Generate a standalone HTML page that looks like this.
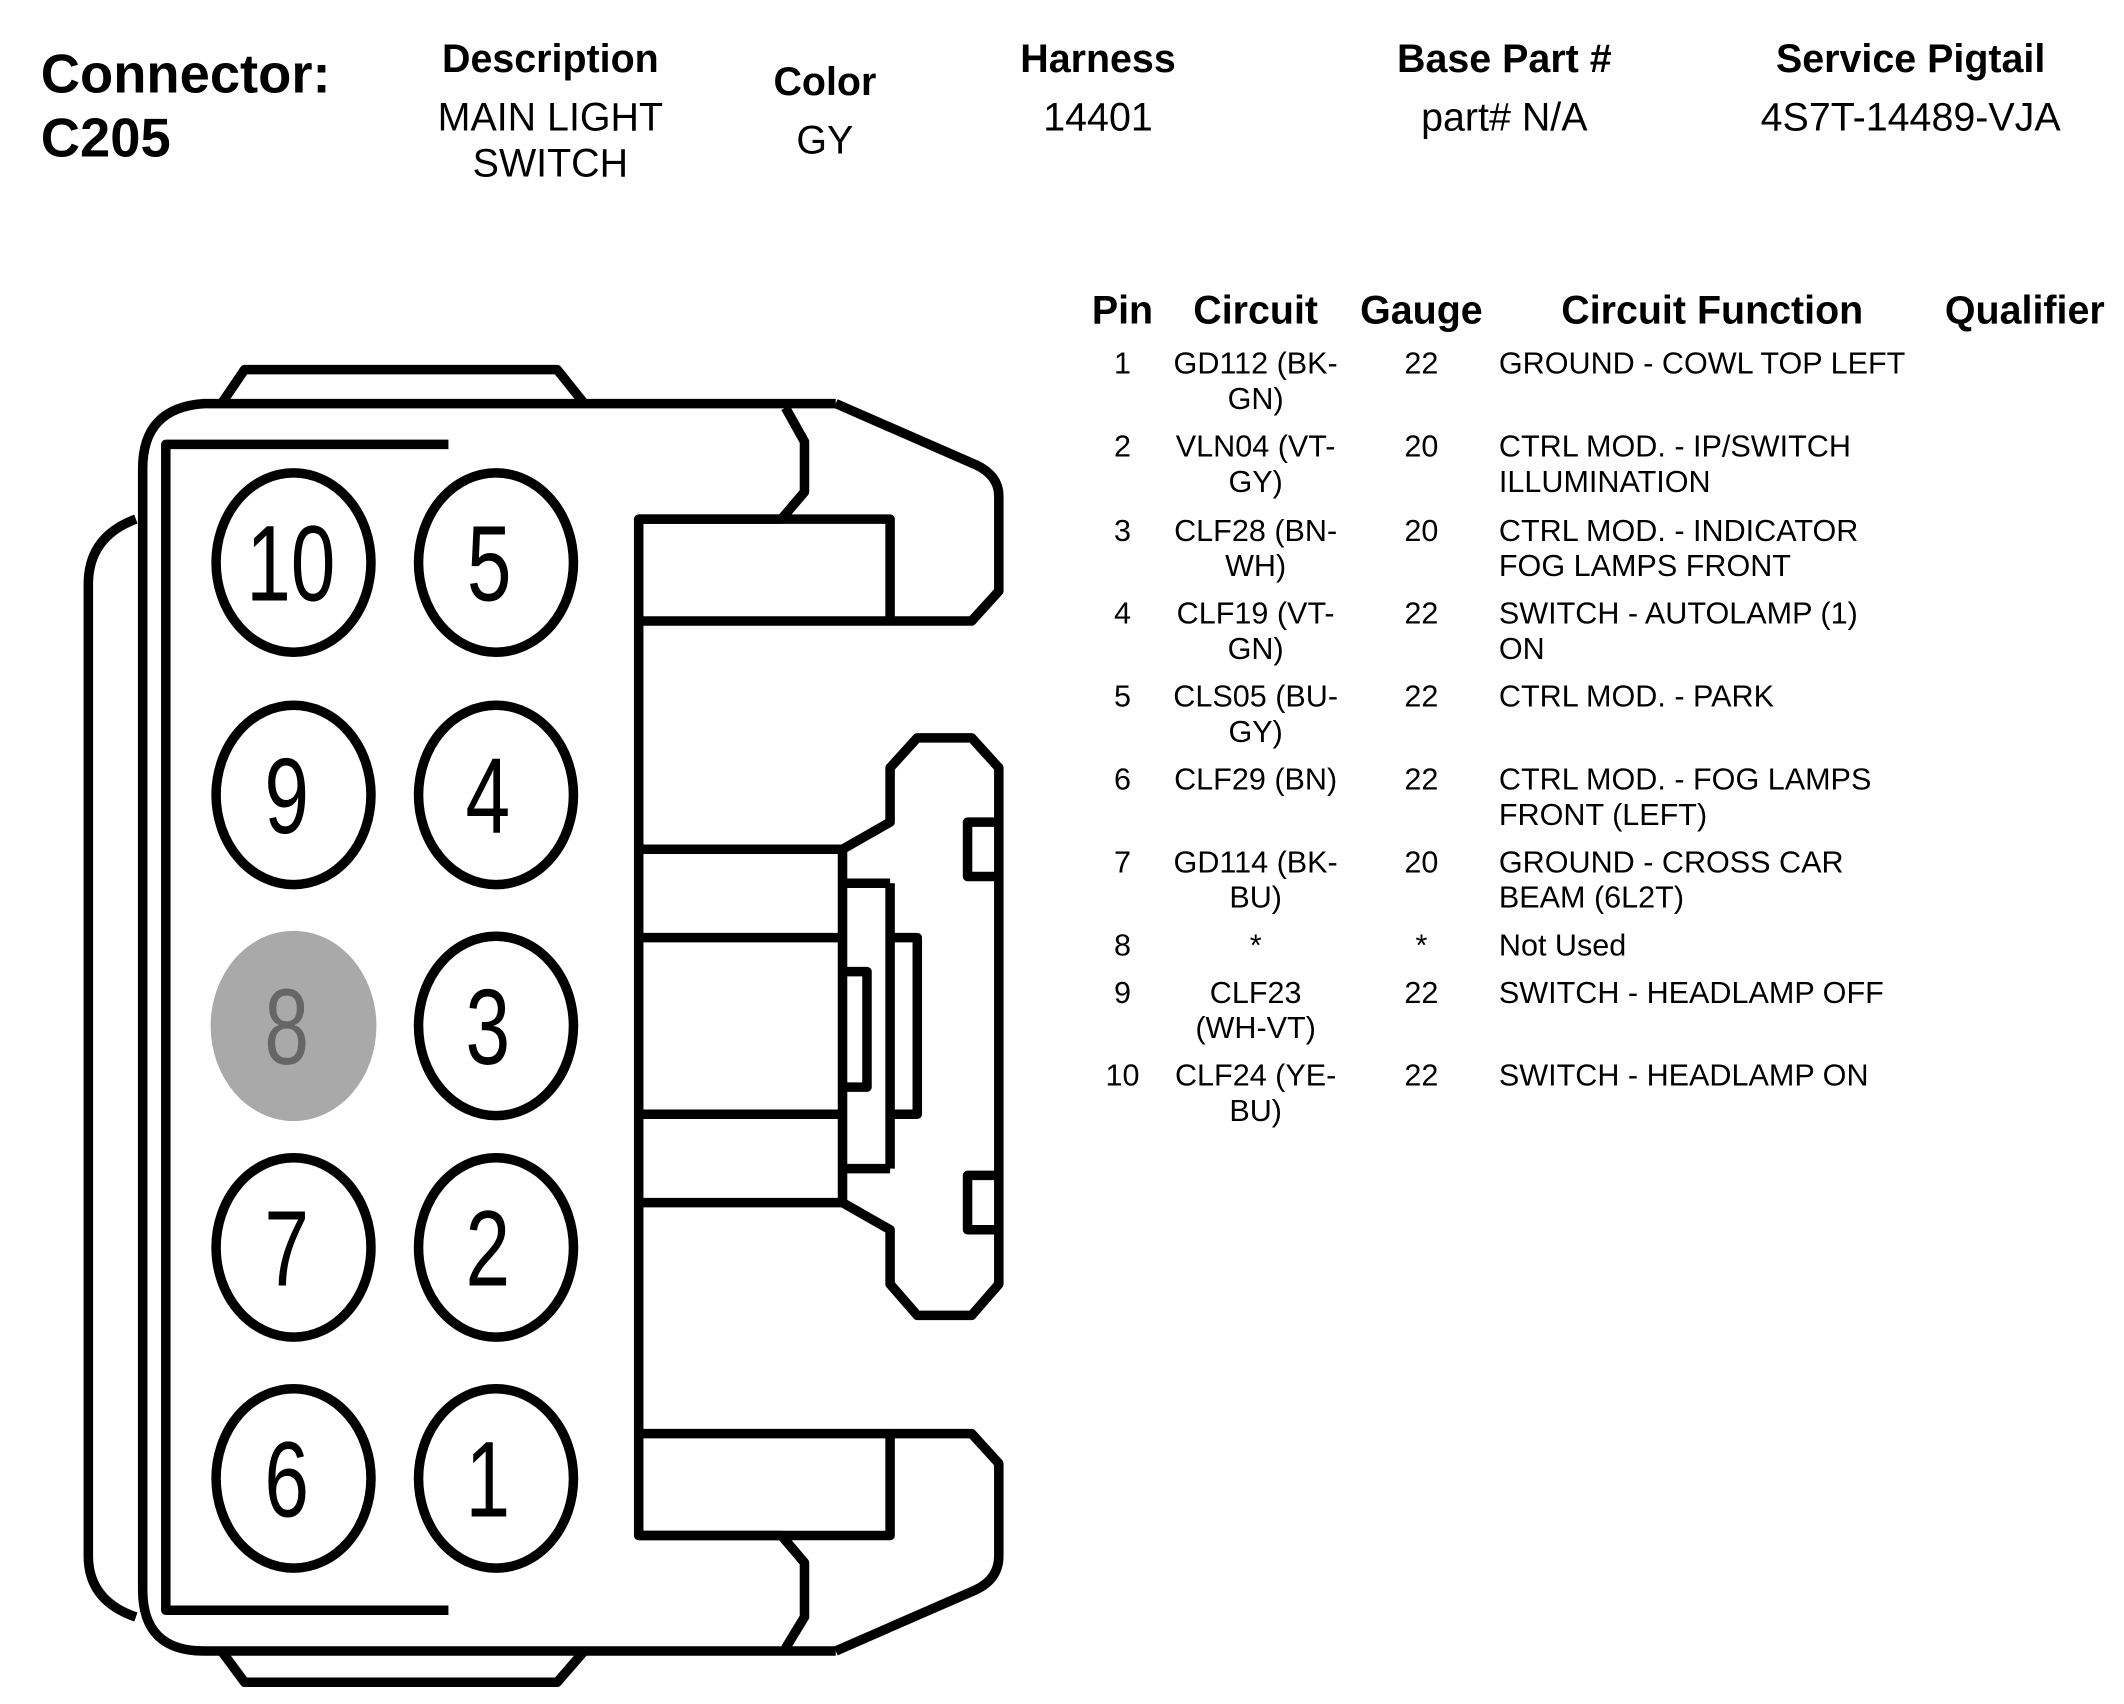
<!DOCTYPE html>
<html><head><meta charset="utf-8"><style>
html,body{margin:0;padding:0;background:#fff;}
svg{display:block;}
text{font-family:"Liberation Sans",Arial,sans-serif;fill:#000;}
.h{font-weight:bold;font-size:29px;text-anchor:middle;}
.v{font-size:29px;text-anchor:middle;}
.th{font-weight:bold;font-size:29px;text-anchor:middle;}
.t{font-size:22.5px;}
.c{text-anchor:middle;}
.n{font-size:72px;text-anchor:middle;}
</style></head><body>
<svg width="2124" height="1704" viewBox="0 0 1563 1254" preserveAspectRatio="none">
<text x="30" y="68" style="font-weight:bold;font-size:40px">Connector:</text>
<text x="30" y="115" style="font-weight:bold;font-size:40px">C205</text>
<text class="h" x="405" y="53">Description</text>
<text class="v" x="405" y="96">MAIN LIGHT</text>
<text class="v" x="405" y="130">SWITCH</text>
<text class="h" x="607" y="70">Color</text>
<text class="v" x="607" y="113">GY</text>
<text class="h" x="808" y="53">Harness</text>
<text class="v" x="808" y="96">14401</text>
<text class="h" x="1107" y="53">Base Part #</text>
<text class="v" x="1107" y="96">part# N/A</text>
<text class="h" x="1406" y="53">Service Pigtail</text>
<text class="v" x="1406" y="96">4S7T-14489-VJA</text>

<text class="th" x="826" y="238">Pin</text>
<text class="th" x="924" y="238">Circuit</text>
<text class="th" x="1046" y="238">Gauge</text>
<text class="th" x="1260" y="238">Circuit Function</text>
<text class="th" x="1490" y="238">Qualifier</text>

<g class="t">
<text class="c" x="826" y="275">1</text><text class="c" x="924" y="275">GD112 (BK-</text><text class="c" x="924" y="301">GN)</text><text class="c" x="1046" y="275">22</text><text x="1103" y="275">GROUND - COWL TOP LEFT</text>
<text class="c" x="826" y="336">2</text><text class="c" x="924" y="336">VLN04 (VT-</text><text class="c" x="924" y="362">GY)</text><text class="c" x="1046" y="336">20</text><text x="1103" y="336">CTRL MOD. - IP/SWITCH</text><text x="1103" y="362">ILLUMINATION</text>
<text class="c" x="826" y="398">3</text><text class="c" x="924" y="398">CLF28 (BN-</text><text class="c" x="924" y="424">WH)</text><text class="c" x="1046" y="398">20</text><text x="1103" y="398">CTRL MOD. - INDICATOR</text><text x="1103" y="424">FOG LAMPS FRONT</text>
<text class="c" x="826" y="459">4</text><text class="c" x="924" y="459">CLF19 (VT-</text><text class="c" x="924" y="485">GN)</text><text class="c" x="1046" y="459">22</text><text x="1103" y="459">SWITCH - AUTOLAMP (1)</text><text x="1103" y="485">ON</text>
<text class="c" x="826" y="520">5</text><text class="c" x="924" y="520">CLS05 (BU-</text><text class="c" x="924" y="546">GY)</text><text class="c" x="1046" y="520">22</text><text x="1103" y="520">CTRL MOD. - PARK</text>
<text class="c" x="826" y="581">6</text><text class="c" x="924" y="581">CLF29 (BN)</text><text class="c" x="1046" y="581">22</text><text x="1103" y="581">CTRL MOD. - FOG LAMPS</text><text x="1103" y="607">FRONT (LEFT)</text>
<text class="c" x="826" y="642">7</text><text class="c" x="924" y="642">GD114 (BK-</text><text class="c" x="924" y="668">BU)</text><text class="c" x="1046" y="642">20</text><text x="1103" y="642">GROUND - CROSS CAR</text><text x="1103" y="668">BEAM (6L2T)</text>
<text class="c" x="826" y="703">8</text><text class="c" x="924" y="703">*</text><text class="c" x="1046" y="703">*</text><text x="1103" y="703">Not Used</text>
<text class="c" x="826" y="738">9</text><text class="c" x="924" y="738">CLF23</text><text class="c" x="924" y="764">(WH-VT)</text><text class="c" x="1046" y="738">22</text><text x="1103" y="738">SWITCH - HEADLAMP OFF</text>
<text class="c" x="826" y="799">10</text><text class="c" x="924" y="799">CLF24 (YE-</text><text class="c" x="924" y="825">BU)</text><text class="c" x="1046" y="799">22</text><text x="1103" y="799">SWITCH - HEADLAMP ON</text>
</g>

<g fill="none" stroke="#000" stroke-width="7" stroke-linejoin="round">
<path d="M163,297 L180,272 L410,272 L430,297"/>
<path d="M163,1215 L180,1238 L410,1238 L430,1215"/>
<path d="M615,297 L150,297 Q105,300 105,345 L105,1170 Q105,1215 150,1215 L615,1215"/>
<path d="M330,327 L122,327 L122,1185 L330,1185"/>
<path d="M100,382 Q65,395 65,430 L65,1145 Q65,1178 100,1190"/>
<path d="M615,297 L718,342 Q735,350 735,365 L735,435 L715,457 L470,457"/>
<path d="M578,300 L592,325 L592,362 L575,382 L470,382 L470,1130 L575,1130 L592,1150 L592,1190 L578,1213"/>
<path d="M470,382 L655,382 L655,457"/>
<path d="M470,1130 L655,1130 L655,1055 L470,1055"/>
<path d="M615,1215 L718,1170 Q735,1162 735,1145 L735,1077 L715,1055 L655,1055"/>
<path d="M470,625 L620,625 M470,690 L620,690 M470,820 L620,820 M470,885 L620,885"/>
<path d="M620,625 L620,885 M655,650 L655,860"/>
<path d="M620,650 L655,650 M620,860 L655,860"/>
<path d="M620,625 L655,605 L655,565 L675,543 L715,543 L735,565 L735,945 L715,968 L675,968 L655,945 L655,905 L620,885"/>
<path d="M655,690 L675,690 L675,820 L655,820"/>
<path d="M620,715 L638,715 L638,800 L620,800"/>
<path d="M735,605 L712,605 L712,645 L735,645 M735,865 L712,865 L712,905 L735,905"/>
</g>

<g fill="none" stroke="#000" stroke-width="7">
<ellipse cx="216" cy="414" rx="57" ry="66"/>
<ellipse cx="365" cy="414" rx="57" ry="66"/>
<ellipse cx="216" cy="585" rx="57" ry="66"/>
<ellipse cx="365" cy="585" rx="57" ry="66"/>
<ellipse cx="365" cy="755" rx="57" ry="66"/>
<ellipse cx="216" cy="918" rx="57" ry="66"/>
<ellipse cx="365" cy="918" rx="57" ry="66"/>
<ellipse cx="216" cy="1088" rx="57" ry="66"/>
<ellipse cx="365" cy="1088" rx="57" ry="66"/>
</g>
<ellipse cx="216" cy="755" rx="61" ry="70" fill="#a9a9a9"/>
<g class="n">
<text class="n" transform="translate(214,442) scale(0.82,1.1)">10</text>
<text class="n" transform="translate(360,442) scale(0.82,1.1)">5</text>
<text class="n" transform="translate(211,613) scale(0.82,1.1)">9</text>
<text class="n" transform="translate(359,613) scale(0.82,1.1)">4</text>
<text class="n" style="fill:#666" transform="translate(211,783) scale(0.82,1.1)">8</text>
<text class="n" transform="translate(359,783) scale(0.82,1.1)">3</text>
<text class="n" transform="translate(211,946) scale(0.82,1.1)">7</text>
<text class="n" transform="translate(359,946) scale(0.82,1.1)">2</text>
<text class="n" transform="translate(211,1116) scale(0.82,1.1)">6</text>
<text class="n" transform="translate(359,1116) scale(0.82,1.1)">1</text>
</g>
</svg>
</body></html>
